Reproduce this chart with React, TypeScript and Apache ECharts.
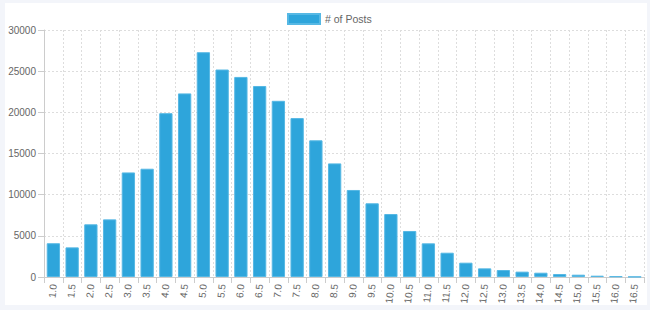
import React, { useEffect, useRef } from "react";
import * as echarts from "echarts";

const categories = ["1.0","1.5","2.0","2.5","3.0","3.5","4.0","4.5","5.0","5.5","6.0","6.5","7.0","7.5","8.0","8.5","9.0","9.5","10.0","10.5","11.0","11.5","12.0","12.5","13.0","13.5","14.0","14.5","15.0","15.5","16.0","16.5"];
const posts = [4100,3600,6400,7000,12700,13150,19900,22300,27300,25200,24300,23200,21400,19300,16600,13800,10570,8950,7650,5590,4090,2950,1740,1050,850,650,520,360,280,160,80,30];
const seriesName = "# of Posts";

export default function App() {
  const ref = useRef<HTMLDivElement>(null);
  useEffect(() => {
    const chart = echarts.init(ref.current!, null, { renderer: "svg" });
    const font = "'Liberation Sans', Arial, sans-serif";
    chart.setOption({
      animation: false,
      legend: {
        top: 8,
        left: 282,
        itemWidth: 32,
        itemHeight: 10,
        icon: "rect",
        textStyle: { fontSize: 10.5, color: "#666", fontFamily: font },
        data: [seriesName],
      },
      grid: { left: 44, right: 6, top: 30, bottom: 33, containLabel: false },
      xAxis: {
        type: "category",
        data: categories,
        boundaryGap: true,
        axisLine: { show: true, lineStyle: { color: "#ccc" } },
        axisTick: { show: true, length: 6, lineStyle: { color: "#ccc" } },
        axisLabel: { rotate: 84, fontSize: 10, color: "#666", fontFamily: font, margin: 7, interval: 0 },
        splitLine: { show: true, lineStyle: { color: "#ddd", type: [2, 2] } },
      },
      yAxis: {
        type: "value",
        min: 0,
        max: 30000,
        interval: 5000,
        axisLine: { show: true, lineStyle: { color: "#ccc" } },
        axisTick: { show: true, length: 6, lineStyle: { color: "#ccc" } },
        axisLabel: { fontSize: 10, color: "#666", fontFamily: font, margin: 8, formatter: (v: number) => String(v) },
        splitLine: { show: true, lineStyle: { color: "#ddd", type: [2, 2] } },
      },
      series: [
        {
          name: seriesName,
          type: "bar",
          data: posts,
          barCategoryGap: "29%",
          itemStyle: { color: "#2ea5db", borderColor: "#56b8e4", borderWidth: 1 },
        },
      ],
    });
    return () => chart.dispose();
  }, []);
  return (
    <div style={{ position: "absolute", left: 0, top: 0, width: 650, height: 310, background: "#f3f5fa" }}>
      <div style={{ position: "absolute", left: 5, top: 3, width: 642, height: 302, background: "#fff" }} />
      <div ref={ref} style={{ position: "absolute", left: 0, top: 0, width: 650, height: 310 }} />
    </div>
  );
}
